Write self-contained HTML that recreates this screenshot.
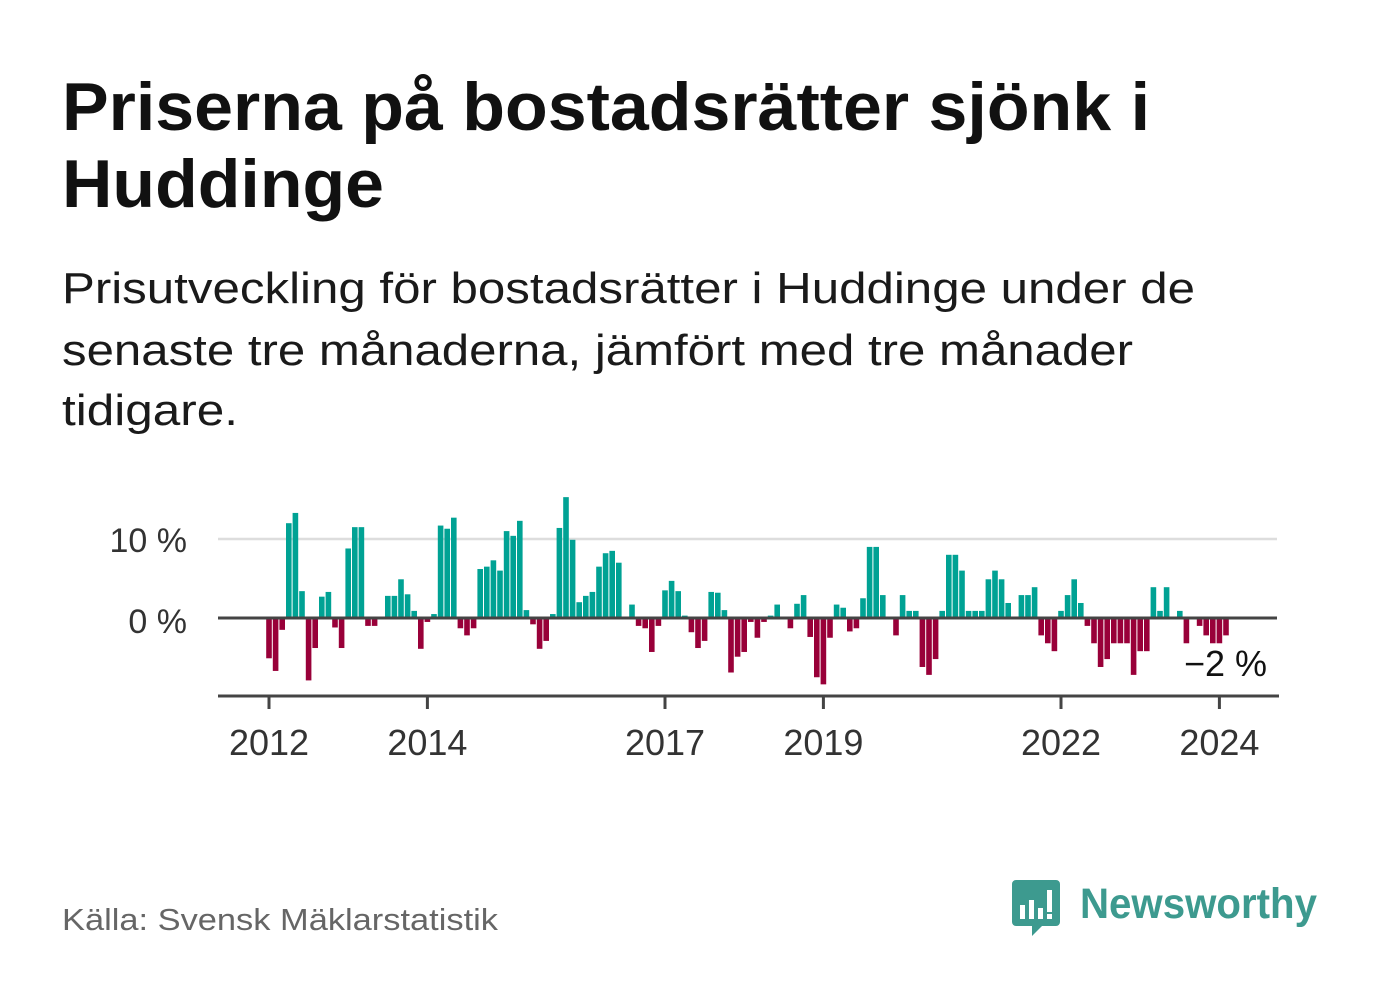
<!DOCTYPE html>
<html><head><meta charset="utf-8"><style>
html,body{margin:0;padding:0;background:#fff;}
svg{display:block;font-family:"Liberation Sans",sans-serif;}
</style></head><body>
<svg id="chart" width="1382" height="999" viewBox="0 0 1382 999">
<text x="62" y="130" font-size="68" font-weight="bold" fill="#111" textLength="1088" lengthAdjust="spacingAndGlyphs">Priserna på bostadsrätter sjönk i</text>
<text x="62" y="207" font-size="68" font-weight="bold" fill="#111" textLength="322" lengthAdjust="spacingAndGlyphs">Huddinge</text>
<text x="62" y="303" font-size="44" fill="#1a1a1a" textLength="1133" lengthAdjust="spacingAndGlyphs">Prisutveckling för bostadsrätter i Huddinge under de</text>
<text x="62" y="365" font-size="44" fill="#1a1a1a" textLength="1071" lengthAdjust="spacingAndGlyphs">senaste tre månaderna, jämfört med tre månader</text>
<text x="62" y="425" font-size="44" fill="#1a1a1a" textLength="176" lengthAdjust="spacingAndGlyphs">tidigare.</text>
<line x1="218" y1="539" x2="1277" y2="539" stroke="#dddddd" stroke-width="2.5"/>
<text x="187" y="552" font-size="34" fill="#333" text-anchor="end">10 %</text>
<text x="187" y="633" font-size="34" fill="#333" text-anchor="end">0 %</text>
<g id="bars"></g>
<line x1="218" y1="618" x2="1277" y2="618" stroke="#444" stroke-width="3"/>
<line x1="218" y1="696" x2="1279" y2="696" stroke="#444" stroke-width="3"/>
<g id="xticks"></g>
<text x="1267" y="676" font-size="36" fill="#111" text-anchor="end">−2 %</text>
<text x="62" y="930" font-size="31" fill="#666" textLength="436" lengthAdjust="spacingAndGlyphs">Källa: Svensk Mäklarstatistik</text>
<g>
<path d="M1016 880 h40 a4 4 0 0 1 4 4 v38 a4 4 0 0 1 -4 4 h-14 l-10 10 v-10 h-16 a4 4 0 0 1 -4 -4 v-38 a4 4 0 0 1 4 -4z" fill="#3d9a8f"/>
<rect x="1020" y="905" width="5" height="14" fill="#fff"/><rect x="1029" y="900" width="5" height="19" fill="#fff"/><rect x="1038" y="908" width="5" height="11" fill="#fff"/><rect x="1047" y="890" width="5" height="22" fill="#fff"/><rect x="1047" y="914" width="5" height="5" fill="#fff"/>
<text x="1080" y="918" font-size="43" font-weight="bold" fill="#3d9a8f" textLength="237" lengthAdjust="spacingAndGlyphs">Newsworthy</text>
</g>
</svg>
<script>
const values = [-5.1,-6.7,-1.5,12.0,13.3,3.4,-7.9,-3.8,2.7,3.3,-1.2,-3.8,
8.8,11.5,11.5,-1.0,-1.0,0,2.8,2.8,4.9,3.0,0.9,-3.9,
-0.5,0.5,11.7,11.3,12.7,-1.3,-2.2,-1.3,6.2,6.5,7.3,6.0,
11.0,10.4,12.3,1.0,-0.8,-3.9,-2.9,0.5,11.4,15.3,9.9,2.0,
2.8,3.3,6.5,8.2,8.5,7.0,0,1.7,-1.0,-1.3,-4.3,-1.0,
3.5,4.7,3.4,0.3,-1.8,-3.8,-2.9,3.3,3.2,1.0,-6.9,-4.9,
-4.3,-0.5,-2.5,-0.5,0.3,1.7,0,-1.3,1.8,2.9,-2.4,-7.5,
-8.4,-2.5,1.7,1.3,-1.7,-1.3,2.5,9.0,9.0,2.9,0,-2.2,
2.9,0.9,0.9,-6.2,-7.2,-5.2,0.9,8.0,8.0,6.0,0.9,0.9,
0.9,4.9,6.0,4.9,1.9,0,2.9,2.9,3.9,-2.2,-3.2,-4.2,
0.9,2.9,4.9,1.9,-1.0,-3.2,-6.2,-5.2,-3.2,-3.2,-3.2,-7.2,
-4.2,-4.2,3.9,0.9,3.9,0,0.9,-3.2,0,-1.0,-2.2,-3.2,
-3.2,-2.2];
const startYear = 2012;
const tickYears = [2012,2014,2017,2019,2022,2024];
const NS = "http://www.w3.org/2000/svg";
function xScale(monthIndex){ return 269 + monthIndex * 6.6; }
function yScale(v){ return 618 - v * 7.9; }
const bars = document.getElementById('bars');
values.forEach((v,i)=>{
  const r = document.createElementNS(NS,'rect');
  const x = xScale(i);
  const y0 = yScale(0), y1 = yScale(v);
  r.setAttribute('x', x - 2.8);
  r.setAttribute('width', 5.6);
  r.setAttribute('y', Math.min(y0,y1));
  r.setAttribute('height', Math.abs(y1-y0));
  r.setAttribute('fill', v >= 0 ? '#00a294' : '#990039');
  
  
  bars.appendChild(r);
});
const xt = document.getElementById('xticks');
tickYears.forEach(yr=>{
  const x = xScale((yr-startYear)*12);
  const l = document.createElementNS(NS,'line');
  l.setAttribute('x1',x); l.setAttribute('x2',x);
  l.setAttribute('y1',696); l.setAttribute('y2',709);
  l.setAttribute('stroke','#444'); l.setAttribute('stroke-width','3');
  
  
  xt.appendChild(l);
  const t = document.createElementNS(NS,'text');
  t.setAttribute('x',x); t.setAttribute('y',755);
  t.setAttribute('font-size','36'); t.setAttribute('fill','#333');
  t.setAttribute('text-anchor','middle');
  t.textContent = yr;
  
  
  xt.appendChild(t);
});
</script>
</body></html>
